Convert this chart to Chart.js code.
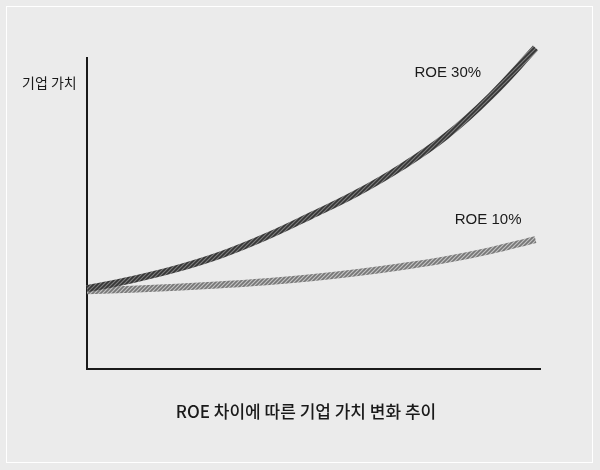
<!DOCTYPE html>
<html>
<head>
<meta charset="utf-8">
<script src="https://cdn.jsdelivr.net/npm/chart.js@4"></script>
<style>
  html, body { margin: 0; padding: 0; background: #ebebeb; }
  #wrap { position: relative; width: 600px; height: 470px; }
  #frame { position: absolute; left: 6px; top: 6px; width: 587px; height: 457px; border: 1px solid #ffffff; box-sizing: border-box; pointer-events: none; }
  canvas { position: absolute; left: 0; top: 0; }
</style>
</head>
<body>
<div id="wrap">
  <canvas id="c" width="600" height="470"></canvas>
  <div id="frame"></div>
</div>
<script>
// Data (conceptual: years vs. firm value)
const years = [0, 1, 2, 3, 4, 5, 6, 7, 8, 9, 10];
const roe30 = [80, 89, 100, 114, 132, 153, 175, 201, 232, 272, 320];
const roe10 = [78, 79.5, 81.5, 84, 87, 91, 96, 102, 109, 118, 129];
const seriesLabels = ['ROE 30%', 'ROE 10%'];
const yAxisLabel = '기업 가치';
const captionText = 'ROE 차이에 따른 기업 가치 변화 추이';

function hatch(base, stripe) {
  const p = document.createElement('canvas');
  p.width = 4; p.height = 4;
  const g = p.getContext('2d');
  g.fillStyle = base; g.fillRect(0, 0, 4, 4);
  g.strokeStyle = stripe; g.lineWidth = 1.2;
  g.beginPath();
  g.moveTo(0, 4); g.lineTo(4, 0);
  g.moveTo(-1, 1); g.lineTo(1, -1);
  g.moveTo(3, 5); g.lineTo(5, 3);
  g.stroke();
  return g.createPattern(p, 'repeat');
}

const ctx = document.getElementById('c').getContext('2d');

const textPlugin = {
  id: 'texts',
  afterDraw(chart) {
    const c = chart.ctx;
    const xs = chart.scales.x, ys = chart.scales.y;
    c.save();
    c.fillStyle = '#1a1a1a';
    c.textBaseline = 'middle';
    c.font = '14px "Noto Sans CJK KR"';
    c.textAlign = 'left';
    c.fillText(yAxisLabel, 22, 83);
    c.font = '15px "Liberation Sans", Arial, sans-serif';
    c.fillText(seriesLabels[0], xs.getPixelForValue(7.3), ys.getPixelForValue(295));
    c.fillText(seriesLabels[1], xs.getPixelForValue(8.2), ys.getPixelForValue(149));
    c.font = '500 17px "Noto Sans CJK KR"';
    c.textAlign = 'center';
    c.fillText(captionText, 306, 412);
    c.restore();
  }
};

new Chart(ctx, {
  type: 'line',
  data: {
    datasets: [
      {
        label: seriesLabels[0],
        data: years.map((x, i) => ({ x, y: roe30[i] })),
        borderColor: hatch('#353535', '#7e7e7e'),
        borderWidth: 7,
        tension: 0.4,
        pointRadius: 0,
        borderCapStyle: 'butt',
        clip: false
      },
      {
        label: seriesLabels[1],
        data: years.map((x, i) => ({ x, y: roe10[i] })),
        borderColor: hatch('#767676', '#c4c4c4'),
        borderWidth: 7,
        tension: 0.4,
        pointRadius: 0,
        borderCapStyle: 'butt',
        clip: false
      }
    ]
  },
  options: {
    responsive: false,
    animation: false,
    layout: { padding: { left: 87, right: 60, top: 58, bottom: 101 } },
    plugins: { legend: { display: false }, tooltip: { enabled: false } },
    scales: {
      x: {
        type: 'linear', min: 0, max: 10.1,
        ticks: { display: false },
        grid: { display: false, drawTicks: false },
        border: { display: true, color: '#1a1a1a', width: 2 }
      },
      y: {
        type: 'linear', min: 0, max: 310,
        ticks: { display: false },
        grid: { display: false, drawTicks: false },
        border: { display: true, color: '#1a1a1a', width: 2 }
      }
    }
  },
  plugins: [textPlugin]
});
</script>
</body>
</html>
